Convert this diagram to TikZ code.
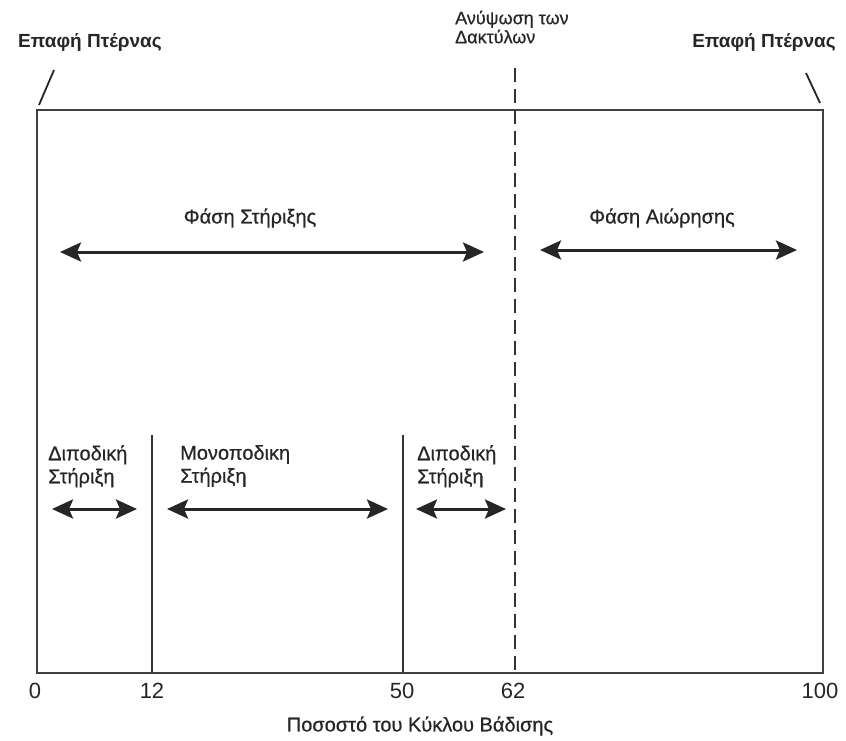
\documentclass[tikz,border=0pt]{standalone}
\usepackage{fontspec}
\setmainfont{Liberation Sans}
\newfontfamily\medfont{Liberation Sans}[FakeBold=0.6]
\usetikzlibrary{arrows.meta}
\begin{document}
\begin{tikzpicture}[x=1pt,y=-1pt,
  frame/.style={draw=black!75,line width=1.8pt},
  divider/.style={draw=black!80,line width=1.6pt},
  dashdiv/.style={draw=black!80,line width=1.8pt,dash pattern=on 14pt off 7pt},
  tick/.style={draw=black!85,line width=1.8pt},
  dbl/.style={draw=black!85,line width=3pt,{Stealth[length=21pt,width=19pt,inset=4pt]}-{Stealth[length=21pt,width=19pt,inset=4pt]}},
  lbl/.style={font=\medfont\fontsize{20}{23}\selectfont,inner sep=0pt,text=black!85},
  toplbl/.style={font=\bfseries\fontsize{19}{22}\selectfont,inner sep=0pt,text=black!85},
  num/.style={font=\fontsize{22}{24}\selectfont,inner sep=0pt,text=black!85}
]
\useasboundingbox (0,0) rectangle (846,740);
\fill[white] (0,0) rectangle (846,740);
% frame corners
\coordinate (tl) at (37,110);
\coordinate (tr) at (823,110);
\coordinate (bl) at (37,673);
\coordinate (br) at (823,673);
\draw[frame] (tl) -- (tr) -- (br) -- (bl) -- cycle;
% dividers
\coordinate (d12t) at (152,435);
\coordinate (d12b) at (152,673);
\coordinate (d50t) at (403,435);
\coordinate (d50b) at (403,673);
\coordinate (d62t) at (515,68);
\coordinate (d62b) at (515,673);
\draw[divider] (d12t) -- (d12b);
\draw[divider] (d50t) -- (d50b);
\draw[dashdiv] (d62t) -- (d62b);
% top labels
\node[toplbl] (hsL) at (90,42) {Επαφή Πτέρνας};
\node[toplbl] (hsR) at (764,42) {Επαφή Πτέρνας};
\node[lbl,font=\medfont\fontsize{18}{19}\selectfont,anchor=west,align=left] (to) at (455,27) {Ανύψωση των\\Δακτύλων};
\coordinate (sl1) at (39,105);
\coordinate (sl2) at (54,70);
\coordinate (sr1) at (806,73);
\coordinate (sr2) at (820,103);
\draw[tick] (sl1) -- (sl2);
\draw[tick] (sr1) -- (sr2);
% phases
\node[lbl] (stance) at (250,218) {Φάση Στήριξης};
\node[lbl] (swing) at (662,218) {Φάση Αιώρησης};
\coordinate (st1) at (60,252);
\coordinate (st2) at (484,252);
\coordinate (sw1) at (540,250);
\coordinate (sw2) at (797,250);
\draw[dbl] (st1) -- (st2);
\draw[dbl] (sw1) -- (sw2);
% sub phases
\node[lbl,anchor=north west,align=left] (ds1) at (48,445) {Διποδική\\Στήριξη};
\node[lbl,anchor=north west,align=left] (ss) at (180,445) {Μονοποδικη\\Στήριξη};
\node[lbl,anchor=north west,align=left] (ds2) at (417,445) {Διποδική\\Στήριξη};
\coordinate (a1) at (52,509);
\coordinate (a2) at (137,509);
\coordinate (b1) at (167,509);
\coordinate (b2) at (388,509);
\coordinate (c1) at (416,509);
\coordinate (c2) at (506,509);
\draw[dbl] (a1) -- (a2);
\draw[dbl] (b1) -- (b2);
\draw[dbl] (c1) -- (c2);
% axis numbers
\node[num] (n0) at (35,691) {0};
\node[num] (n12) at (152,691) {12};
\node[num] (n50) at (402,691) {50};
\node[num] (n62) at (513,691) {62};
\node[num] (n100) at (820,691) {100};
\node[lbl] (axis) at (420,726) {Ποσοστό του Κύκλου Βάδισης};
\end{tikzpicture}
\end{document}
